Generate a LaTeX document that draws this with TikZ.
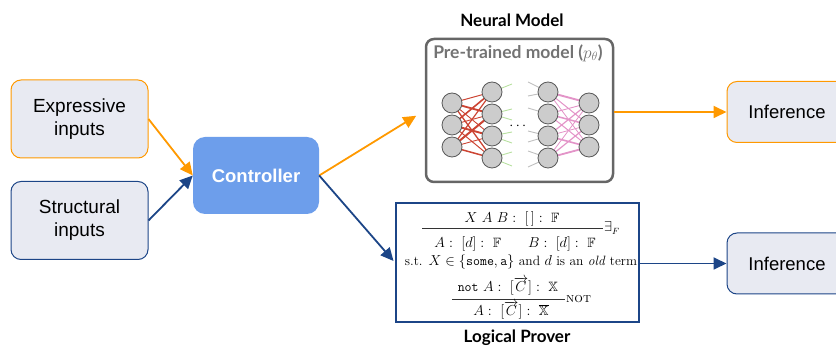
\documentclass[tikz,border=0pt]{standalone}
\usepackage{amsmath,amssymb}
\usepackage{fontspec}
\newfontfamily\arialf{Liberation Sans}
\newfontfamily\latof{Lato}
\usetikzlibrary{arrows.meta,backgrounds}
\definecolor{orng}{HTML}{FF9900}
\definecolor{dblue}{HTML}{1C4587}
\definecolor{boxfill}{HTML}{E8EAF2}
\definecolor{ctrl}{HTML}{6D9EEB}
\definecolor{nnred}{HTML}{CC4433}
\definecolor{nnpink}{HTML}{E394C8}
\definecolor{nngreen}{HTML}{B8E0A0}
\begin{document}
\begin{tikzpicture}[x=1pt,y=-1pt,
  inbox/.style={draw, rounded corners=10pt, fill=boxfill, minimum width=137pt, minimum height=78pt, align=center, font=\arialf\fontsize{19}{23}\selectfont, line width=1pt},
  infbox/.style={inbox, minimum width=120pt, minimum height=61pt, font=\arialf\fontsize{18.5}{22}\selectfont},
  arr/.style={-{Triangle[length=13pt,width=12pt]}, line width=1.8pt},
  neuron/.style={circle, draw=black!65, fill=black!20, minimum size=20pt, inner sep=0pt, line width=0.8pt},
  lbl/.style={font=\latof\bfseries\fontsize{17}{20}\selectfont},
  mathtxt/.style={inner sep=0pt, anchor=base, font=\fontsize{13.5}{16}\selectfont},
  ruleline/.style={line width=0.8pt, black!80}
]
\useasboundingbox (0,0) rectangle (836,347);
\clip (0,0) rectangle (836,347);

% input boxes
\node[inbox, draw=orng] (expr) at (79.5,119) {Expressive\\inputs};
\node[inbox, draw=dblue] (struc) at (79.5,220.5) {Structural\\inputs};
\node[draw=none, fill=ctrl, rounded corners=12pt, minimum width=126pt, minimum height=77pt,
      text=white, font=\arialf\bfseries\fontsize{18.5}{22}\selectfont] (ctrl) at (256,175.5) {Controller};

% neural model
\node[draw=black!60, line width=2.5pt, rounded corners=8pt, minimum width=187pt, minimum height=143pt] (neural) at (519.5,110.5) {};
\node[lbl] (nlabel) at (512,20) {Neural Model};
\node[font=\latof\bfseries\fontsize{17.5}{20}\selectfont, text=black!55] (pt) at (518,53) {Pre-trained model ($p_\theta$)};

\node[neuron] (n11) at (452,103) {};
\node[neuron] (n12) at (452,125) {};
\node[neuron] (n13) at (452,147) {};
\node[neuron] (n21) at (492,92) {};
\node[neuron] (n22) at (492,114) {};
\node[neuron] (n23) at (492,136) {};
\node[neuron] (n24) at (492,158) {};
\node[neuron] (n31) at (548,92) {};
\node[neuron] (n32) at (548,114) {};
\node[neuron] (n33) at (548,136) {};
\node[neuron] (n34) at (548,158) {};
\node[neuron] (n41) at (589,103) {};
\node[neuron] (n42) at (589,125) {};
\node[neuron] (n43) at (589,147) {};
\node[font=\fontsize{14}{14}\selectfont] (dots) at (519,126) {$\cdots$};

\begin{scope}[on background layer]
  \foreach \i/\j/\w in {1/1/1.0,1/2/1.8,1/3/0.9,1/4/1.3,2/1/1.6,2/2/0.9,2/3/1.9,2/4/1.0,3/1/1.2,3/2/2.0,3/3/0.9,3/4/1.5}
    \draw[nnred, line width=\w pt] (n1\i.center) -- (n2\j.center);
  \foreach \i/\j/\w in {1/1/1.9,1/2/1.0,1/3/0.8,2/1/0.9,2/2/1.5,2/3/1.0,3/1/1.2,3/2/0.8,3/3/1.6,4/1/0.8,4/2/1.2,4/3/1.8}
    \draw[nnpink, line width=\w pt] (n3\i.center) -- (n4\j.center);
  \foreach \k/\dy in {1/-8,2/-5,2/6,3/-4,3/7,4/-6,4/8}
    \draw[nngreen, line width=0.9pt] (n2\k.center) -- ++(20,\dy);
  \foreach \k/\dy in {1/-10,1/4,2/-6,3/6,3/-5,4/-7,4/9}
    \draw[black!25, line width=0.9pt] (n3\k.center) -- ++(-20,\dy);
\end{scope}

% logical prover
\node[draw=dblue, line width=2.3pt, minimum width=243pt, minimum height=119pt] (logic) at (517.5,262.5) {};
\node[lbl] (llabel) at (517,338) {Logical Prover};
% rule 1
\node[mathtxt] (r1num) at (512,223) {$X\ A\ B :\ [\,] :\ \mathbb{F}$};
\coordinate (r1a) at (422,228);
\coordinate (r1b) at (603,228);
\draw[ruleline] (r1a) -- (r1b);
\node[mathtxt] (r1den) at (515,248) {$A :\ [d] :\ \mathbb{F} \qquad B :\ [d] :\ \mathbb{F}$};
\node[mathtxt, anchor=base west] (r1lab) at (604,232) {$\exists_F$};
% side condition
\node[mathtxt] (st) at (521,265.5) {s.t. $X \in \{\texttt{some}, \texttt{a}\}$ and $d$ is an \textit{old} term};
% rule 2
\node[mathtxt] (r2num) at (508,292) {$\texttt{not}\ A :\ [\overrightarrow{C}] :\ \mathbb{X}$};
\coordinate (r2a) at (452,299);
\coordinate (r2b) at (565,299);
\draw[ruleline] (r2a) -- (r2b);
\node[mathtxt] (r2den) at (511,316) {$A :\ [\overrightarrow{C}] :\ \overline{\mathbb{X}}$};
\node[mathtxt, anchor=base west] (r2lab) at (566,303) {\textsc{not}};

% inference boxes
\node[infbox, draw=orng] (inf1) at (787,112) {Inference};
\node[infbox, draw=dblue] (inf2) at (787,263.5) {Inference};

% connectors
\draw[arr, orng] (expr.east) -- (ctrl.west);
\draw[arr, dblue] (struc.east) -- (ctrl.west);
\draw[arr, orng, shorten >=10pt] (ctrl.east) -- (neural.west);
\draw[arr, dblue, shorten >=2pt] (ctrl.east) -- (logic.west);
\draw[arr, orng] (inf1.west -| neural.east) -- (inf1.west);
\draw[arr, dblue] (inf2.west -| logic.east) -- (inf2.west);
\end{tikzpicture}
\end{document}
